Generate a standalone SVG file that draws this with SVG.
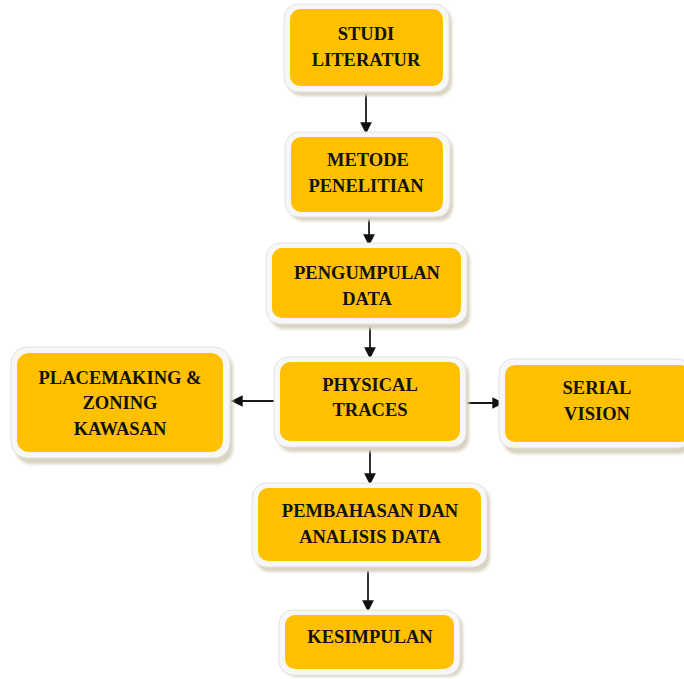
<svg xmlns="http://www.w3.org/2000/svg" width="684" height="679" viewBox="0 0 684 679">
<defs>
<style>
.sh{fill:#d9d3c1;}
.fr{fill:#f7f7f7;stroke:#e2e2e2;stroke-width:1;}
.bx{fill:#FFC000;}
.t{font-family:"Liberation Serif","DejaVu Serif",serif;font-weight:bold;font-size:18.5px;fill:#111;text-anchor:middle;}
.c{stroke:#1a1a1a;stroke-width:1.8;fill:none;marker-end:url(#ah);}
</style>
<marker id="ah" viewBox="0 0 10 10" refX="10" refY="5" markerWidth="6.5" markerHeight="6.5" orient="auto" markerUnits="strokeWidth">
<path d="M0,0 L10,5 L0,10 z" fill="#111"/>
</marker>
<filter id="bl" x="-10%" y="-10%" width="120%" height="130%"><feGaussianBlur stdDeviation="1.5"/></filter>
</defs>
<rect width="684" height="679" fill="#ffffff"/>

<g id="connectors">
<line class="c" x1="366" y1="93" x2="366" y2="134"/>
<line class="c" x1="369" y1="216" x2="369" y2="246"/>
<line class="c" x1="370" y1="323" x2="370" y2="359"/>
<line class="c" x1="274" y1="401" x2="231" y2="401"/>
<line class="c" x1="463" y1="403" x2="504" y2="403"/>
<line class="c" x1="370" y1="448" x2="370" y2="485"/>
<line class="c" x1="368" y1="571" x2="368" y2="612"/>
</g>

<g id="n1">
<rect class="sh" x="288" y="8" width="164" height="88" rx="14" filter="url(#bl)"/>
<rect class="fr" x="284" y="4" width="165" height="88" rx="14"/>
<rect class="bx" x="290" y="9" width="153" height="77" rx="10"/>
<text class="t" x="366" y="40">STUDI</text>
<text class="t" x="366" y="66">LITERATUR</text>
</g>

<g id="n2">
<rect class="sh" x="289" y="136" width="164" height="85" rx="14" filter="url(#bl)"/>
<rect class="fr" x="285" y="132" width="165" height="85" rx="14"/>
<rect class="bx" x="291" y="137" width="152" height="75" rx="10"/>
<text class="t" x="368" y="166">METODE</text>
<text class="t" x="366" y="192">PENELITIAN</text>
</g>

<g id="n3">
<rect class="sh" x="270" y="247" width="200" height="82" rx="14" filter="url(#bl)"/>
<rect class="fr" x="266" y="243" width="201" height="81" rx="14"/>
<rect class="bx" x="272" y="248" width="189" height="70" rx="10"/>
<text class="t" x="367" y="279">PENGUMPULAN</text>
<text class="t" x="367" y="305">DATA</text>
</g>

<g id="n4">
<rect class="sh" x="278" y="361" width="191" height="91" rx="14" filter="url(#bl)"/>
<rect class="fr" x="274" y="357" width="192" height="90" rx="14"/>
<rect class="bx" x="280" y="362" width="180" height="79" rx="10"/>
<text class="t" x="370" y="391">PHYSICAL</text>
<text class="t" x="370" y="416">TRACES</text>
</g>

<g id="n5">
<rect class="sh" x="15" y="352" width="218" height="112" rx="16" filter="url(#bl)"/>
<rect class="fr" x="11" y="347" width="219" height="111" rx="16"/>
<rect class="bx" x="17" y="353" width="206" height="99" rx="12"/>
<text class="t" x="120" y="384">PLACEMAKING &amp;</text>
<text class="t" x="120" y="409">ZONING</text>
<text class="t" x="120" y="435">KAWASAN</text>
</g>

<g id="n6">
<rect class="sh" x="503" y="364" width="190" height="90" rx="14" filter="url(#bl)"/>
<rect class="fr" x="499" y="359" width="192" height="89" rx="14"/>
<rect class="bx" x="505" y="365" width="185" height="77" rx="10"/>
<text class="t" x="597" y="394">SERIAL</text>
<text class="t" x="597" y="420">VISION</text>
</g>

<g id="n7">
<rect class="sh" x="256" y="487" width="234" height="85" rx="14" filter="url(#bl)"/>
<rect class="fr" x="252" y="483" width="235" height="84" rx="14"/>
<rect class="bx" x="258" y="488" width="223" height="73" rx="10"/>
<text class="t" x="370" y="517">PEMBAHASAN DAN</text>
<text class="t" x="370" y="543">ANALISIS DATA</text>
</g>

<g id="n8">
<rect class="sh" x="283" y="614" width="180" height="63" rx="14" filter="url(#bl)"/>
<rect class="fr" x="279" y="610" width="181" height="65" rx="14"/>
<rect class="bx" x="285" y="615" width="169" height="54" rx="10"/>
<text class="t" x="370" y="643">KESIMPULAN</text>
</g>
</svg>
